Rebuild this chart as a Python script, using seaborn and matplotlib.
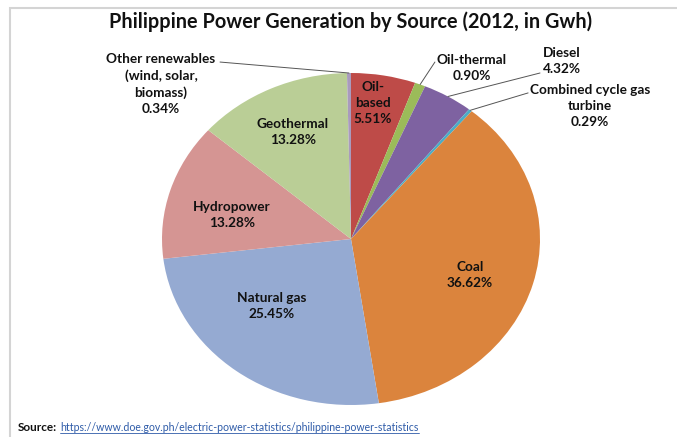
import numpy as np
import seaborn as sns
import matplotlib.pyplot as plt
from matplotlib.patches import Rectangle
from matplotlib.lines import Line2D

sources = ["Oil-\nbased", "Oil-thermal", "Diesel", "Combined cycle gas\nturbine", "Coal",
           "Natural gas", "Hydropower", "Geothermal", "Other renewables\n(wind, solar,\nbiomass)"]
shares = [5.51, 0.90, 4.32, 0.29, 36.62, 25.45, 13.28, 13.28, 0.34]
colors = ["#BE4B48", "#9BBB59", "#7E62A1", "#4BACC6", "#DB843D",
          "#95AAD2", "#D59593", "#BACE96", "#A99BBD"]

sns.set_style("white")
plt.rcParams["font.family"] = ["Lato", "DejaVu Sans"]

fig = plt.figure(figsize=(6.77, 4.37), dpi=100)
W, H = 677, 437

# grey chart frame
fig.patches.append(Rectangle((10 / W, -0.1), 1.2, 1 - 8 / H + 0.1, transform=fig.transFigure,
                             fill=False, edgecolor="#D4D4D4", linewidth=1.5))

ax = fig.add_axes([162 / W, (H - 405) / H, 378 / W, 332 / H])
wedges, _ = ax.pie(shares, colors=colors, startangle=90, counterclock=False,
                   wedgeprops=dict(linewidth=0))
ax.set_aspect("auto")
ax.set_xlim(-1, 1)
ax.set_ylim(-1, 1)

# label positions in axes data coords (pie radius = 1)
label_pos = {0: (0.116, 0.82), 4: (0.63, -0.217), 5: (-0.418, -0.404),
             6: (-0.63, 0.145), 7: (-0.307, 0.645),
             1: (0.64, 1.03), 2: (1.116, 1.072), 3: (1.265, 0.80), 8: (-1.005, 0.934)}
line_end = {1: (0.444, 1.066), 2: (1.0, 1.0), 3: (0.937, 0.88), 8: (-0.693, 1.066)}

for i, w in enumerate(wedges):
    label = sources[i] + "\n" + f"{shares[i]:.2f}%"
    tx, ty = label_pos[i]
    ax.text(tx, ty, label, ha="center", va="center", fontsize=9.8, fontweight="bold",
            color="#111111", linespacing=1.38, clip_on=False)
    if i in line_end:
        mid = np.deg2rad((w.theta1 + w.theta2) / 2)
        lx, ly = line_end[i]
        ax.add_line(Line2D([np.cos(mid), lx], [np.sin(mid), ly], color="#555555",
                           linewidth=0.7, clip_on=False))

fig.text(351 / W, 1 - 22 / H, "Philippine Power Generation by Source (2012, in Gwh)",
         ha="center", va="center", fontsize=14.3, fontweight="bold", color="#111111")

src = fig.text(18 / W, 1 - 431 / H, "Source:", ha="left", va="baseline", fontsize=8.5,
               fontweight="bold", color="#111111")
fig.canvas.draw()
bb = src.get_window_extent()
url = fig.text(bb.x1 / W + 3 / W, 1 - 431 / H,
               "https://www.doe.gov.ph/electric-power-statistics/philippine-power-statistics",
               ha="left", va="baseline", fontsize=7.6, color="#2E5BA8")
fig.canvas.draw()
ub = url.get_window_extent()
fig.lines.append(Line2D([ub.x0 / W, ub.x1 / W], [1 - 432.5 / H, 1 - 432.5 / H],
                        transform=fig.transFigure, color="#2E5BA8", linewidth=0.6))

fig.savefig("out.png", dpi=100)
